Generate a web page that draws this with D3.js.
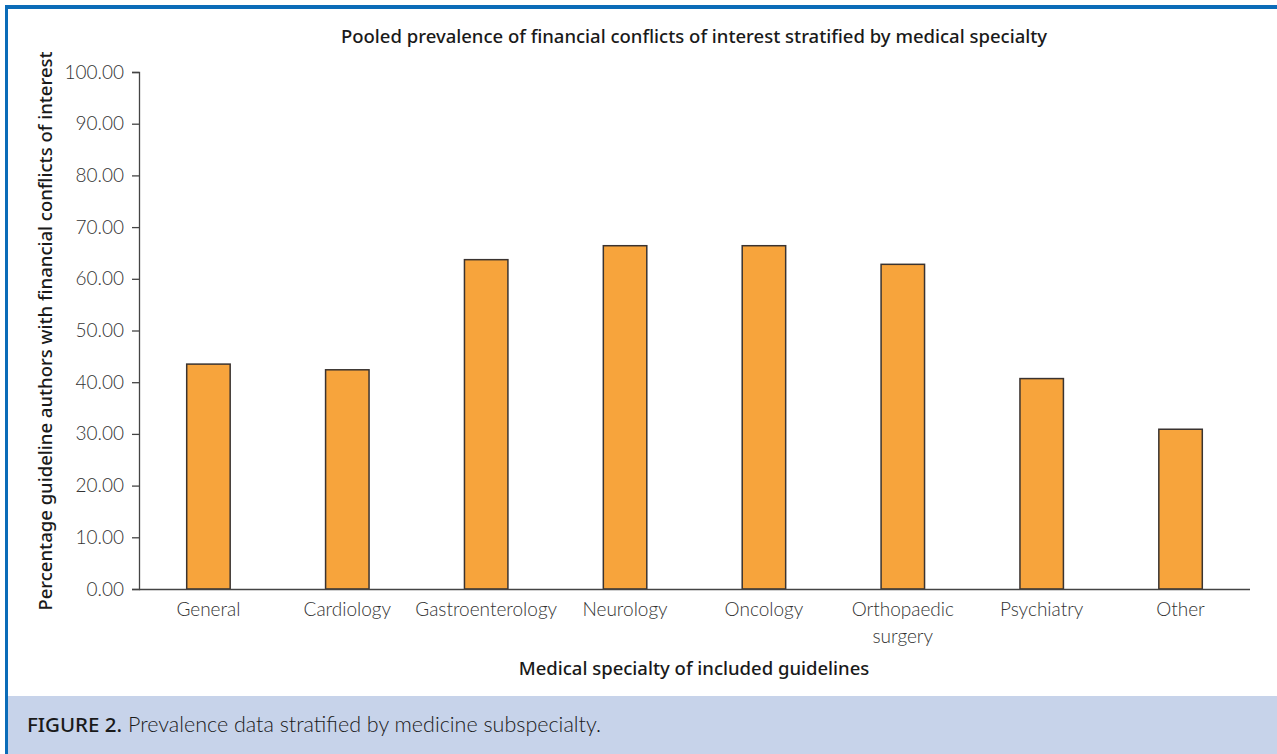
<!DOCTYPE html>
<html>
<head>
<meta charset="utf-8">
<script src="https://cdn.jsdelivr.net/npm/d3@7"></script>
<style>
  body { margin: 0; background: #fff; }
  .tick text { font-family: Lato, "Open Sans", sans-serif; font-weight: 300; }
</style>
</head>
<body>
<div id="chart"></div>
<script>
var specialties = ["General", "Cardiology", "Gastroenterology", "Neurology", "Oncology", "Orthopaedic surgery", "Psychiatry", "Other"];
var prevalence = [43.5, 42.4, 63.7, 66.4, 66.4, 62.8, 40.7, 30.9];
var yTicks = [0, 10, 20, 30, 40, 50, 60, 70, 80, 90, 100];

var width = 1277, height = 754;
var margin = {left: 139, right: 27, top: 72, bottom: 165};
var boldFont = "'Noto Sans', sans-serif";

var svg = d3.select("#chart").append("svg")
  .attr("width", width)
  .attr("height", height);

// frame: blue top and left border, caption band
svg.append("rect").attr("x", 5).attr("y", 5).attr("width", width - 5).attr("height", 4).style("fill", "#0b6cb8");
svg.append("rect").attr("x", 5).attr("y", 5).attr("width", 3).attr("height", height - 5).style("fill", "#0b6cb8");
svg.append("rect").attr("x", 8).attr("y", 696).attr("width", width - 8).attr("height", height - 696).style("fill", "#c7d3ea");

var caption = svg.append("text")
  .attr("x", 27).attr("y", 732)
  .style("font-family", "Lato, sans-serif")
  .style("font-size", "21.5px")
  .style("fill", "#1a1a1a");
caption.append("tspan").text("FIGURE 2.").style("font-family", boldFont).style("font-weight", 500).style("font-size", "20.5px");
caption.append("tspan").text(" Prevalence data stratified by medicine subspecialty.").style("font-weight", 300);

var x = d3.scaleBand()
  .domain(specialties)
  .range([margin.left, width - margin.right])
  .paddingInner(0.687)
  .paddingOuter(0.3435);

var y = d3.scaleLinear()
  .domain([0, 100])
  .range([height - margin.bottom, margin.top]);

svg.append("g")
  .selectAll("rect")
  .data(prevalence)
  .enter()
  .append("rect")
  .attr("x", function(d, i){ return x(specialties[i]); })
  .attr("y", function(d){ return y(d); })
  .attr("width", x.bandwidth())
  .attr("height", function(d){ return y(0) - y(d); })
  .style("fill", "#f7a43c")
  .style("stroke", "#3a3330")
  .style("stroke-width", 1.5);

var yAxis = svg.append("g")
  .attr("transform", "translate(" + margin.left + ",0)")
  .call(d3.axisLeft(y).tickValues(yTicks).tickSize(7).tickPadding(8).tickFormat(d3.format(".2f")));
yAxis.selectAll("text").style("font-size", "19px").style("fill", "#333");
yAxis.selectAll("line, path").style("stroke", "#444").style("stroke-width", 1.3);

var xAxis = svg.append("g")
  .attr("transform", "translate(0," + y(0) + ")")
  .call(d3.axisBottom(x).tickSize(0).tickPadding(14));
xAxis.select(".domain").attr("d", "M" + margin.left + ",0.5H" + (width - margin.right)).style("stroke", "#444").style("stroke-width", 1.3);
xAxis.selectAll("text").style("font-size", "19px").style("fill", "#333")
  .each(function(d){
    if (d === "Orthopaedic surgery") {
      var t = d3.select(this).text(null);
      t.append("tspan").attr("x", 0).attr("dy", "0.71em").text("Orthopaedic");
      t.append("tspan").attr("x", 0).attr("dy", "1.38em").text("surgery");
      t.attr("dy", null);
    }
  });

svg.append("text")
  .attr("x", 694).attr("y", 43)
  .attr("text-anchor", "middle")
  .style("font-family", boldFont)
  .style("font-weight", 500)
  .style("font-size", "18.5px")
  .style("fill", "#1a1a1a")
  .text("Pooled prevalence of financial conflicts of interest stratified by medical specialty");

svg.append("text")
  .attr("x", 694).attr("y", 675)
  .attr("text-anchor", "middle")
  .style("font-family", boldFont)
  .style("font-weight", 500)
  .style("font-size", "18.5px")
  .style("fill", "#1a1a1a")
  .text("Medical specialty of included guidelines");

svg.append("text")
  .attr("transform", "translate(52,331) rotate(-90)")
  .attr("text-anchor", "middle")
  .style("font-family", boldFont)
  .style("font-weight", 500)
  .style("font-size", "18.5px")
  .style("fill", "#1a1a1a")
  .text("Percentage guideline authors with financial conflicts of interest");
</script>
</body>
</html>
